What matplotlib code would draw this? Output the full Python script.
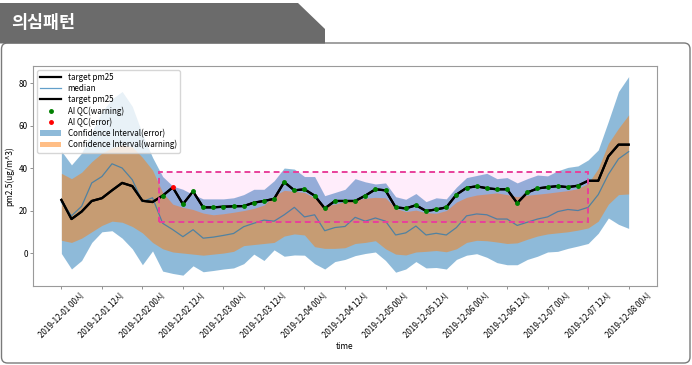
# -*- coding: utf-8 -*-
"""
Suspicious pattern panel - target pm25 with prediction confidence bands and AI QC flags.
"""

import numpy as np
import pandas as pd
import matplotlib
matplotlib.use("Agg")
import matplotlib.pyplot as plt
import matplotlib.dates as mdates
from matplotlib.patches import Polygon, Rectangle, FancyBboxPatch

plt.rcParams["font.family"] = ["Noto Sans CJK KR", "DejaVu Sans"]
plt.rcParams["axes.unicode_minus"] = False

# --- data (3-hourly) ---
times = pd.date_range("2019-12-01 00:00", periods=57, freq="3h")

target = [25, 16, 19.5, 24.5, 25.8, 29.5, 33, 31.5, 24.6, 24, 27, 30.9, 23, 29,
          21.5, 21.5, 21.8, 22, 22.1, 23.7, 24.5, 25.5, 33.4, 29.5, 30, 27, 21,
          24.5, 24.5, 24.5, 27, 30, 29.5, 21.5, 21, 22.5, 19.8, 20.5, 21.5, 27.5,
          30.7, 31.4, 30.5, 30, 30, 23.5, 28.5, 30.4, 31, 31.5, 31, 31.7, 34, 34,
          45.5, 51, 51]
median = [24, 17.5, 22, 33, 36, 42, 40, 34.5, 24.2, 26, 14, 11, 7.7, 11, 7, 7.5,
          8.3, 9.2, 12.4, 14, 15.5, 15, 18, 21.5, 17, 18, 10.5, 12, 12.5, 16.8, 15,
          16.5, 15, 8.5, 9.5, 12.7, 8.5, 9.3, 8.5, 12, 17.5, 18.4, 18, 16, 16, 13,
          14.5, 16, 17, 19.5, 20.5, 20, 21.5, 27.5, 37, 44.3, 47.7]
ci_err_hi = [48, 41.5, 47, 57, 66.5, 72.5, 76, 69, 56, 45, 36, 31.5, 30, 27.5, 25.5,
             25.5, 25.5, 26, 27.5, 30, 30, 34, 40, 39.5, 36, 36, 27, 28.5, 30, 35,
             33.5, 32.5, 33, 26.5, 25.3, 28, 24.2, 26, 25.5, 31, 35.5, 36.5, 37.5,
             35, 35.5, 33, 35, 36.7, 36.3, 38.7, 40.3, 41, 43.8, 48.5, 62, 76, 83]
ci_warn_hi = [37.5, 35, 38, 43, 47, 49.5, 51, 50, 45, 39, 28.5, 23, 21.5, 20.5, 18.8,
              18, 18.5, 19.2, 20, 21, 22.6, 27, 29.5, 29, 28.5, 26, 22.3, 23, 24.3,
              25, 25.8, 26.2, 26, 21, 19.5, 20.2, 19, 18.7, 20, 24, 26.2, 27.3, 27.8,
              28.3, 27.5, 26.5, 27.2, 27.7, 28.2, 28.8, 29.4, 30.3, 32.8, 39.8, 51.6,
              58.7, 65]
ci_warn_lo = [6, 5, 7, 10, 13, 15, 14.5, 12.5, 9.5, 5, 2, 0.5, 0, -0.5, -1, -0.5, 0,
              0.8, 3.5, 4, 4.5, 5, 8, 9, 8.5, 3, 2.2, 2.2, 2.5, 4.5, 5, 5.8, 2, -0.5,
              -0.9, 0.5, 0.8, 1.2, 0.6, 2, 5, 6, 5.8, 5.2, 4.5, 4.8, 6.5, 8, 9, 9.5,
              10, 10.8, 11.8, 15, 23, 27.5, 27.8]
ci_err_lo = [-0.2, -7.5, -3.5, 5, 10, 10.5, 7, 2, -5.5, 1, -8.5, -9.6, -10.4, -6,
             -8.8, -8.2, -7.5, -7, -5, -0.5, -3.5, 1.5, -1.5, -0.9, -1, -5, -7.5, -4,
             -3, -1.2, -0.2, 0.5, -3.5, -9, -7.5, -4, -7, -6.8, -7.5, -3, -1, -0.3,
             -2, -4.5, -5.5, -5.5, -3, -1.5, 0.5, 0.8, 2.2, 3.3, 4.5, 9.3, 16.5,
             13.5, 11.6]
# n: normal, w: warning, e: error
qc_flag = "nnnnnnnnnnwe" + "w" * 40 + "nnnnn"

# suspicious range box
box_start = pd.Timestamp("2019-12-02 05:00")
box_end = pd.Timestamp("2019-12-07 12:00")
box_low, box_high = 14.4, 38.2

df = pd.DataFrame({"time": times, "target": target, "median": median,
                   "err_hi": ci_err_hi, "err_lo": ci_err_lo,
                   "warn_hi": ci_warn_hi, "warn_lo": ci_warn_lo,
                   "flag": list(qc_flag)})

W, H = 692, 365
fig = plt.figure(figsize=(W / 100, H / 100), dpi=100)

# --- page frame + header tab ---
bg = fig.add_axes([0, 0, 1, 1], zorder=0)
bg.set_xlim(0, W)
bg.set_ylim(H, 0)
bg.axis("off")
bg.add_patch(FancyBboxPatch((1.5, 43), W - 3.5, H - 45,
                            boxstyle="round,pad=0,rounding_size=6",
                            facecolor="white", edgecolor="#7a7a7a", linewidth=1))
bg.add_patch(Polygon([(0, 3), (298, 3), (325, 29), (325, 43.5), (0, 43.5)],
                     closed=True, facecolor="#6b6b6b", edgecolor="none"))
bg.text(11, 23, "의심패턴", color="white", fontsize=12.5, fontweight="bold",
        va="center", ha="left")

# --- chart ---
ax = fig.add_axes([33 / W, 1 - 286 / H, (657 - 33) / W, (286 - 66) / H], zorder=2)

ax.plot(df["time"], df["target"], color="black", linewidth=1.6, label="target pm25")
ax.plot(df["time"], df["median"], color="tab:blue", alpha=0.7, linewidth=0.9,
        label="median")
ax.plot(df["time"], df["target"], color="black", linewidth=1.6, label="target pm25")

warn = df[df["flag"] == "w"]
err = df[df["flag"] == "e"]
ax.plot(warn["time"], warn["target"], linestyle="none", marker="o", markersize=2.5,
        color="green", label="AI QC(warning)", zorder=3)
ax.plot(err["time"], err["target"], linestyle="none", marker="o", markersize=2.5,
        color="red", label="AI QC(error)", zorder=3)

ax.fill_between(df["time"], df["err_lo"], df["err_hi"], color="tab:blue", alpha=0.5,
                linewidth=0, label="Confidence Interval(error)")
ax.fill_between(df["time"], df["warn_lo"], df["warn_hi"], color="tab:orange",
                alpha=0.5, linewidth=0, label="Confidence Interval(warning)")

# suspicious region box
x0 = mdates.date2num(box_start)
x1 = mdates.date2num(box_end)
ax.add_patch(Rectangle((x0, box_low), x1 - x0, box_high - box_low,
                       facecolor="#ff00cc", alpha=0.07, edgecolor="none", zorder=1.5))
ax.add_patch(Rectangle((x0, box_low), x1 - x0, box_high - box_low,
                       fill=False, edgecolor="#e8409b", linewidth=1.4,
                       linestyle=(0, (3, 2)), zorder=4))

ax.set_ylim(-15.5, 88)
ax.set_yticks([0, 20, 40, 60, 80])
ax.xaxis.set_major_locator(mdates.HourLocator(byhour=[0, 12]))
ax.xaxis.set_major_formatter(mdates.DateFormatter("%Y-%m-%d %H시"))
for lbl in ax.get_xticklabels():
    lbl.set_rotation(45)

ax.tick_params(axis="both", labelsize=5.8, length=2, width=0.5, pad=1.8,
               color="#666666")
for sp in ax.spines.values():
    sp.set_color("#9a9a9a")
    sp.set_linewidth(0.8)

ax.set_xlabel("time", fontsize=6, labelpad=2)
ax.set_ylabel("pm2.5(ug/m^3)", fontsize=6, labelpad=3)

ax.legend(loc="upper left", fontsize=5.8, labelspacing=0.25, handlelength=2.6,
          borderpad=0.4, framealpha=0.8, edgecolor="#cccccc")

plt.savefig("out.png", dpi=100)
plt.close(fig)
